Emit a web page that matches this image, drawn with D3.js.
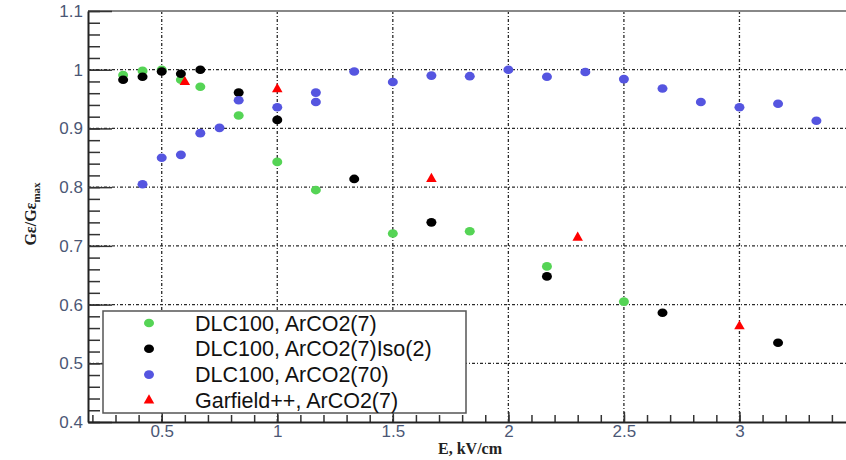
<!DOCTYPE html>
<html>
<head>
<meta charset="utf-8">
<script src="https://cdn.jsdelivr.net/npm/d3@7"></script>
<style>
  html, body { margin: 0; padding: 0; background: #fff; }
  svg { display: block; }
</style>
</head>
<body>
<svg id="chart" width="846" height="460"></svg>
<script>
// ---- data ----
const greenX = [0.333, 0.417, 0.5, 0.583, 0.667, 0.833, 1.0, 1.167, 1.5, 1.833, 2.167, 2.5];
const greenY = [0.991, 0.998, 1.0, 0.983, 0.971, 0.922, 0.843, 0.795, 0.721, 0.725, 0.665, 0.605];

const blackX = [0.333, 0.417, 0.5, 0.583, 0.667, 0.833, 1.0, 1.333, 1.667, 2.167, 2.667, 3.167];
const blackY = [0.983, 0.988, 0.997, 0.993, 1.0, 0.961, 0.9145, 0.814, 0.740, 0.648, 0.586, 0.535];

const blueX = [0.417, 0.5, 0.583, 0.667, 0.75, 0.833, 1.0, 1.167, 1.167, 1.333, 1.5, 1.667, 1.833, 2.0, 2.167, 2.333, 2.5, 2.667, 2.833, 3.0, 3.167, 3.333];
const blueY = [0.805, 0.850, 0.855, 0.892, 0.901, 0.948, 0.936, 0.961, 0.945, 0.997, 0.979, 0.990, 0.989, 1.0, 0.988, 0.996, 0.984, 0.968, 0.945, 0.936, 0.942, 0.913];

const redX = [0.6, 1.0, 1.667, 2.3, 3.0];
const redY = [0.979, 0.967, 0.814, 0.714, 0.563];

const seriesNames = ["DLC100, ArCO2(7)", "DLC100, ArCO2(7)Iso(2)", "DLC100, ArCO2(70)", "Garfield++, ArCO2(7)"];
const xTicks = [0.5, 1, 1.5, 2, 2.5, 3];
const yTicks = [0.4, 0.5, 0.6, 0.7, 0.8, 0.9, 1, 1.1];
const xTitle = "E, kV/cm";

// ---- layout ----
const svg = d3.select("#chart");
const L = 88, T = 11, B = 422, R = 855;
const x = d3.scaleLinear().domain([0.181, 3.5]).range([L, R]);
const y = d3.scaleLinear().domain([0.4, 1.1]).range([B, T]);

const tickColor = "#4b5775";
const gridStyle = "3,2,1,2";

// grid
const grid = svg.append("g");
grid.selectAll("line.h").data(yTicks.filter(v => v > 0.4 && v < 1.1)).join("line")
  .attr("x1", L).attr("x2", 846).attr("y1", d => y(d)).attr("y2", d => y(d))
  .attr("stroke", "#2a2a2a").attr("stroke-width", 1.3).attr("stroke-dasharray", gridStyle);
grid.selectAll("line.v").data(xTicks).join("line")
  .attr("x1", d => x(d)).attr("x2", d => x(d)).attr("y1", T).attr("y2", B)
  .attr("stroke", "#2a2a2a").attr("stroke-width", 1.3).attr("stroke-dasharray", gridStyle);

// top frame line
svg.append("line").attr("x1", L).attr("x2", 846).attr("y1", T).attr("y2", T)
  .attr("stroke", "#888").attr("stroke-width", 2);

// y axis minor ticks
const yMinor = d3.range(0.4, 1.1001, 0.02);
svg.append("g").attr("transform", `translate(${L},0)`)
  .call(d3.axisLeft(y).tickValues(yMinor).tickSizeInner(-12).tickSizeOuter(0).tickFormat(""))
  .call(g => g.selectAll("line").attr("stroke", "#333").attr("stroke-width", 1.5))
  .call(g => g.select(".domain").remove());
// y axis major
svg.append("g").attr("transform", `translate(${L},0)`)
  .call(d3.axisLeft(y).tickValues(yTicks).tickSizeInner(-24).tickSizeOuter(0).tickPadding(5)
    .tickFormat(d => d3.format("~g")(d)))
  .call(g => g.selectAll("line").attr("stroke", "#333").attr("stroke-width", 1.5))
  .call(g => g.select(".domain").attr("stroke", "#222").attr("stroke-width", 2))
  .call(g => g.selectAll("text").attr("fill", tickColor)
    .attr("font-family", "Liberation Sans, Arial, sans-serif").attr("font-size", 17));

// x axis minor
const xMinor = d3.range(0.2, 3.45, 0.1);
svg.append("g").attr("transform", `translate(0,${B})`)
  .call(d3.axisBottom(x).tickValues(xMinor).tickSizeInner(-7).tickSizeOuter(0).tickFormat(""))
  .call(g => g.selectAll("line").attr("stroke", "#333").attr("stroke-width", 1.5))
  .call(g => g.select(".domain").remove());
// x axis major
svg.append("g").attr("transform", `translate(0,${B})`)
  .call(d3.axisBottom(x).tickValues(xTicks).tickSizeInner(-10).tickSizeOuter(0).tickPadding(5)
    .tickFormat(d => d3.format("~g")(d)))
  .call(g => g.selectAll("line").attr("stroke", "#333").attr("stroke-width", 1.5))
  .call(g => g.select(".domain").attr("stroke", "#222").attr("stroke-width", 2))
  .call(g => g.selectAll("text").attr("fill", tickColor).attr("dy", null).attr("y", 15)
    .attr("font-family", "Liberation Sans, Arial, sans-serif").attr("font-size", 17));

// axis titles
svg.append("text").attr("x", 470).attr("y", 454).attr("text-anchor", "middle")
  .attr("font-family", "Liberation Serif, Times New Roman, serif").attr("font-weight", "bold")
  .attr("font-size", 16).attr("fill", "#222").text(xTitle);

const yt = svg.append("text").attr("transform", "translate(36,214) rotate(-90)")
  .attr("text-anchor", "middle")
  .attr("font-family", "Liberation Serif, Times New Roman, serif").attr("font-weight", "bold")
  .attr("font-size", 16).attr("fill", "#222");
yt.append("tspan").text("Gε/Gε");
yt.append("tspan").attr("font-size", 11).attr("dy", 4).text("max");

// series markers
const colors = ["#55d455", "#000000", "#5555e0", "#ff0000"];
function dots(xs, ys, color) {
  svg.append("g").selectAll("ellipse").data(xs.map((v, i) => [v, ys[i]])).join("ellipse")
    .attr("cx", d => x(d[0])).attr("cy", d => y(d[1]))
    .attr("rx", 5).attr("ry", 4.3).attr("fill", color);
}
dots(greenX, greenY, colors[0]);
dots(blackX, blackY, colors[1]);
dots(blueX, blueY, colors[2]);
const tri = d3.symbol(d3.symbolTriangle, 48);
svg.append("g").selectAll("path").data(redX.map((v, i) => [v, redY[i]])).join("path")
  .attr("transform", d => `translate(${x(d[0])},${y(d[1])})`)
  .attr("d", tri).attr("fill", colors[3]);

// legend
const lg = svg.append("g");
lg.append("rect").attr("x", 103).attr("y", 311).attr("width", 363).attr("height", 102)
  .attr("fill", "#fff").attr("stroke", "#555").attr("stroke-width", 1.5);
seriesNames.forEach((name, i) => {
  const cy = 323 + i * 25.8;
  if (i < 3) {
    lg.append("ellipse").attr("cx", 149).attr("cy", cy).attr("rx", 5).attr("ry", 4.3).attr("fill", colors[i]);
  } else {
    lg.append("path").attr("transform", `translate(149,${cy})`).attr("d", tri).attr("fill", colors[i]);
  }
  lg.append("text").attr("x", 195).attr("y", cy + 7.5)
    .attr("font-family", "Liberation Sans, Arial, sans-serif").attr("font-size", 21.5)
    .attr("fill", "#111").text(name);
});
</script>
</body>
</html>
